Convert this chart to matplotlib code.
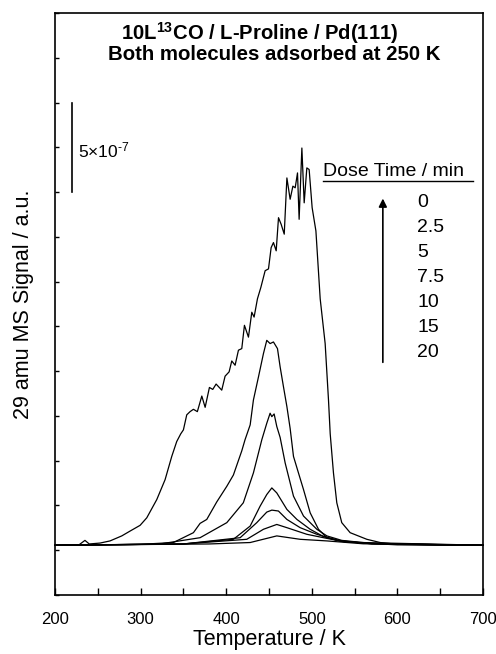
import matplotlib
matplotlib.use("Agg")
import matplotlib.pyplot as plt
from matplotlib.ticker import MultipleLocator
import matplotlib.transforms as mtransforms

plt.rcParams['font.family'] = ['Liberation Sans', 'DejaVu Sans']
plt.rcParams['mathtext.fontset'] = 'custom'
plt.rcParams['mathtext.rm'] = 'Liberation Sans'
plt.rcParams['mathtext.it'] = 'Liberation Sans'
plt.rcParams['mathtext.bf'] = 'Liberation Sans:bold'

# ---- data (signal in units of 1e-7) ----
dose_labels = ["0", "2.5", "5", "7.5", "10", "15", "20"]

T_20 = [200, 215, 228, 235, 240, 252.6, 264.3, 278, 287.7, 299.4, 307.2, 318.9, 328.6, 336.4,
        342.2, 346.9, 350, 353.9, 357.8, 361.7, 366.3, 371.5, 375.4, 380.4, 384.3, 388.2, 394.8,
        398.7, 403.4, 406.5, 410.4, 414.3, 418.2, 421.3, 426, 429.9, 432.6, 436.5, 440.5, 445.5,
        449.4, 452.5, 455.2, 458.4, 461.1, 464.2, 467.8, 470.9, 474.7, 477.9, 480.6, 483.3, 485.2,
        488.4, 491.1, 494.2, 496.9, 500.4, 504.8, 509.8, 515.6, 519.5, 521.5, 525.3, 529.2, 535,
        544.8, 564.3, 579.9, 600, 650, 700]
S_20 = [0.28, 0.3, 0.3, 0.55, 0.35, 0.4, 0.52, 0.8, 1.07, 1.39, 1.81, 2.83, 3.94, 5.24,
        6.07, 6.5, 6.72, 7.56, 7.74, 7.87, 7.74, 8.61, 7.98, 9.09, 8.98, 9.28, 8.94,
        9.72, 9.96, 10.57, 10.33, 11.17, 11.26, 12.56, 11.9, 13.29, 13.02, 14.04, 14.68, 15.61,
        15.71, 16.9, 17.18, 16.72, 18.57, 18.2, 17.65, 20.79, 19.6, 20.33, 20.24, 21.07, 18.48,
        22.46, 19.4, 21.35, 21.26, 19.13, 17.83, 14.04, 11.54, 8.39, 6.5, 4.32, 2.65, 1.54,
        0.98, 0.61, 0.43, 0.33, 0.28, 0.28]

T_15 = [200, 300, 338.3, 361.7, 369.5, 377.3, 389, 400.7, 408.4, 418.2, 422, 428, 431.8, 437.7,
        443.5, 447.4, 451.3, 455.2, 459.9, 463, 466.9, 470.9, 474.7, 478.6, 484.4, 490.3, 498.1,
        507.8, 517.6, 533, 560, 600, 700]
S_15 = [0.28, 0.33, 0.43, 0.98, 1.5, 1.72, 2.7, 3.57, 4.2, 5.55, 6.17, 7.0, 8.39, 9.68,
        10.98, 11.72, 11.54, 11.63, 11.26, 10.24, 9.13, 8.02, 6.8, 5.24, 4.32, 3.39, 2.09,
        1.17, 0.7, 0.52, 0.4, 0.3, 0.28]

T_10 = [200, 320, 369.5, 400.7, 420, 431.8, 439.6, 441.6, 447.4, 451.3, 453.3, 456, 459.1, 463,
        468.9, 478.6, 490.3, 505.9, 517.6, 535, 570, 700]
S_10 = [0.28, 0.33, 0.7, 1.54, 2.65, 4.32, 5.79, 6.17, 7.09, 7.65, 7.46, 7.61, 6.91, 6.3,
        4.87, 3.02, 1.91, 1.17, 0.8, 0.55, 0.38, 0.28]

T_7p5 = [200, 350, 408.4, 428, 439.6, 447.4, 453.3, 459.1, 470.9, 482.6, 498.1, 513.7, 535, 570, 700]
S_7p5 = [0.28, 0.35, 0.61, 1.35, 2.46, 3.11, 3.48, 3.2, 2.28, 1.72, 1.17, 0.76, 0.5, 0.36, 0.28]

T_5 = [200, 350, 416.3, 435.7, 447.4, 453.3, 461, 470.9, 486.4, 505.9, 530, 570, 700]
S_5 = [0.28, 0.35, 0.7, 1.54, 2.13, 2.24, 2.19, 1.72, 1.26, 0.89, 0.55, 0.36, 0.28]

T_2p5 = [200, 350, 424, 443.5, 459.1, 470.9, 494.2, 513.7, 540, 700]
S_2p5 = [0.28, 0.35, 0.61, 1.17, 1.44, 1.26, 0.89, 0.7, 0.45, 0.28]

T_0 = [200, 380, 428, 459.1, 486.4, 517.6, 560, 700]
S_0 = [0.28, 0.35, 0.43, 0.8, 0.61, 0.52, 0.36, 0.28]

curves = [(T_0, S_0), (T_2p5, S_2p5), (T_5, S_5), (T_7p5, S_7p5),
          (T_10, S_10), (T_15, S_15), (T_20, S_20)]

scale_bar = (20.0, 25.0)   # 5x10^-7 in units of 1e-7

# ---- figure ----
fig = plt.figure(figsize=(4.96, 6.54), dpi=100)
ax = fig.add_axes([55/496, 1-595/654, 428/496, 582/654])

for T, S in curves:
    ax.plot(T, S, color='black', lw=0.9, clip_on=False)

ax.set_xlim(200, 700)
ax.set_ylim(-2.5, 30)
ax.xaxis.set_major_locator(MultipleLocator(100))
ax.xaxis.set_minor_locator(MultipleLocator(50))
ax.yaxis.set_major_locator(MultipleLocator(2.5))
ax.tick_params(axis='x', which='both', direction='in', length=5, width=1, labelsize=12, pad=12)
ax.tick_params(axis='y', which='both', direction='in', length=3, width=1, labelleft=False)
for sp in ax.spines.values():
    sp.set_linewidth(1.2)

ax.set_xlabel("Temperature / K", fontsize=15.5, labelpad=2)
ax.set_ylabel("29 amu MS Signal / a.u.", fontsize=15.5, labelpad=15)

# title text
ax.text(0.479, 0.966, r"10L$^{\mathbf{13}}$CO / L-Proline / Pd(111)", transform=ax.transAxes,
        ha='center', va='center', fontsize=14.6, fontweight='bold')
ax.text(0.512, 0.928, "Both molecules adsorbed at 250 K", transform=ax.transAxes,
        ha='center', va='center', fontsize=14.7, fontweight='bold')

# scale bar
trans = mtransforms.blended_transform_factory(ax.transAxes, ax.transData)
ax.plot([0.04, 0.04], list(scale_bar), color='black', lw=1.2, transform=trans)
ax.text(0.054, sum(scale_bar)/2 - 0.15, r"5$\times$10$^{\text{-7}}$", transform=trans,
        ha='left', va='center', fontsize=12.5)

# dose time legend
ax.text(0.626, 0.727, "Dose Time / min", transform=ax.transAxes,
        ha='left', va='center', fontsize=14)
ax.plot([0.626, 0.977], [0.711, 0.711], color='black', lw=1.0, transform=ax.transAxes)
ax.annotate("", xy=(0.766, 0.686), xytext=(0.766, 0.395), xycoords='axes fraction',
            arrowprops=dict(arrowstyle='-|>', color='black', lw=1.2, mutation_scale=12))
for i, lab in enumerate(dose_labels):
    ax.text(0.846, 0.675 - i*0.043, lab, transform=ax.transAxes,
            ha='left', va='center', fontsize=14)

fig.savefig("out.png", dpi=100)
